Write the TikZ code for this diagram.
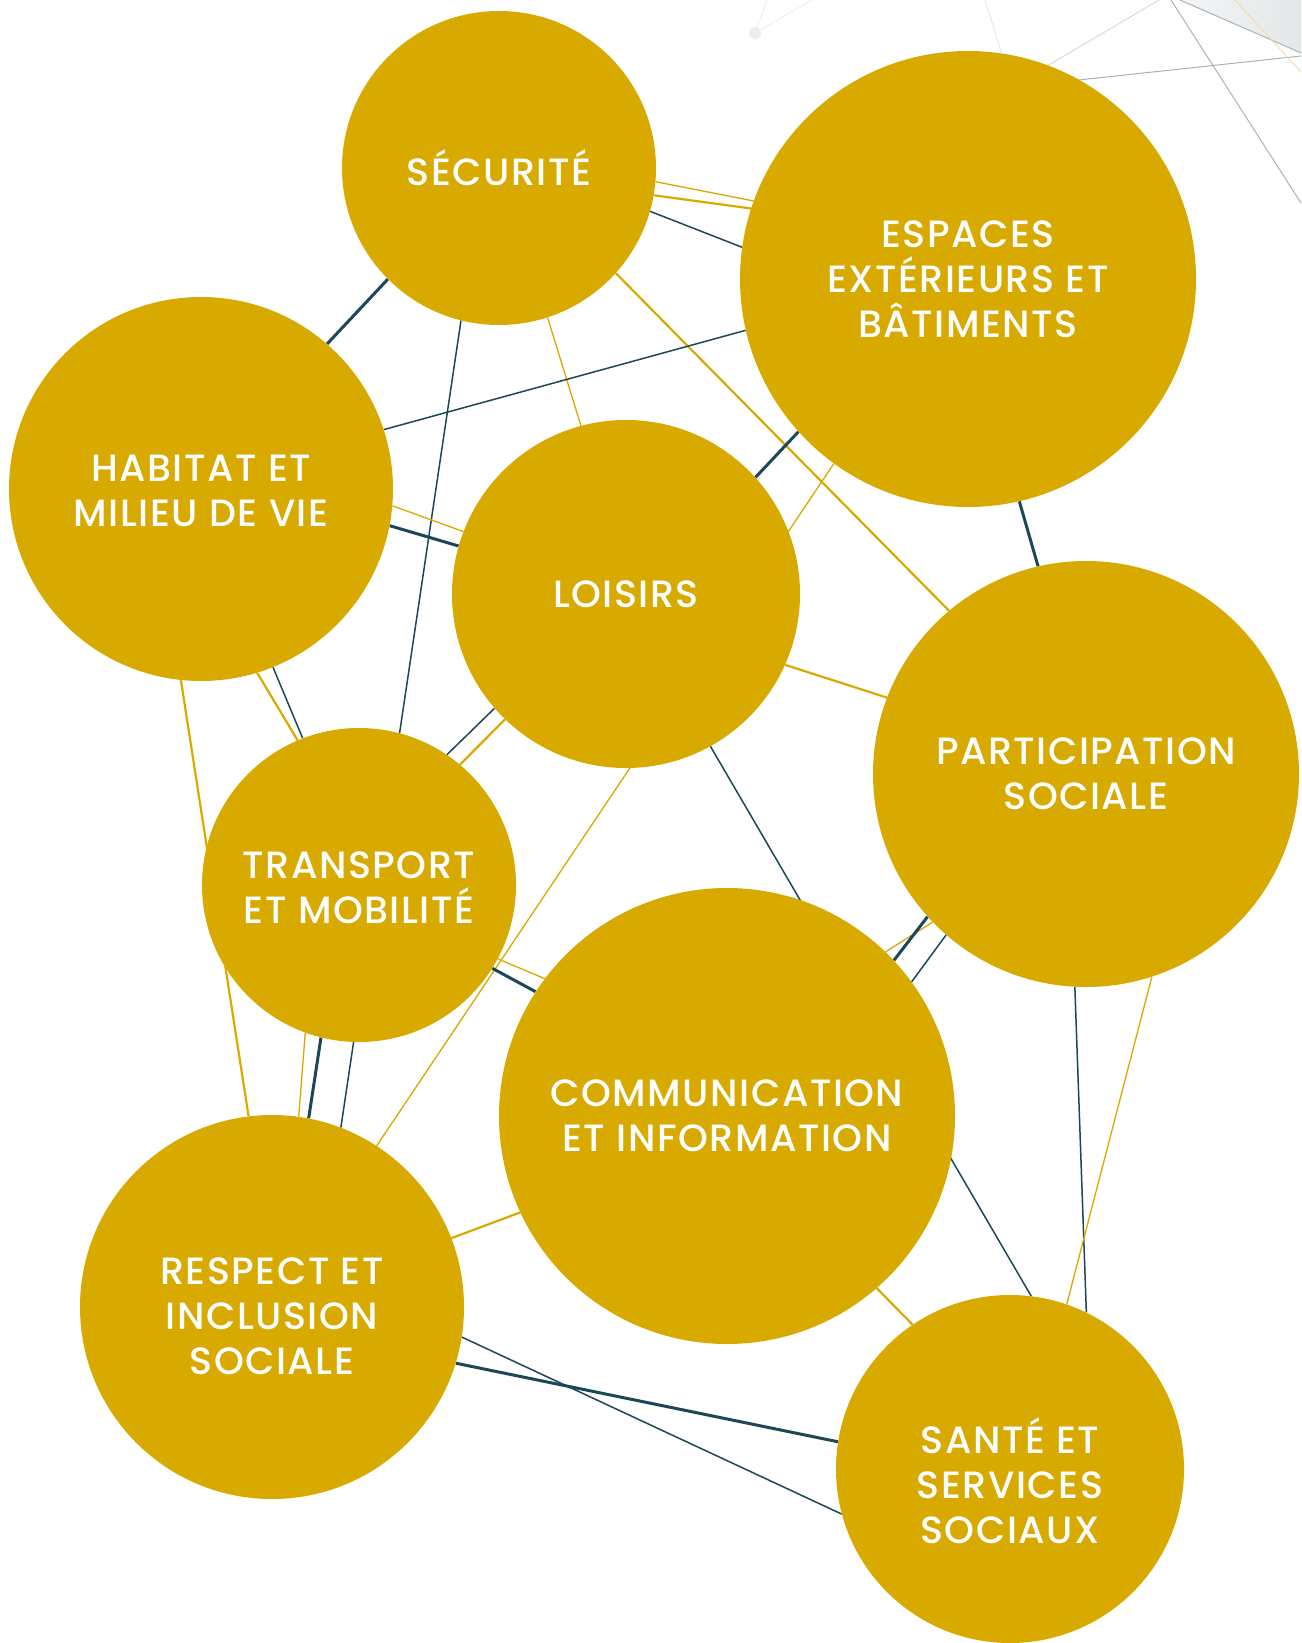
\documentclass[tikz,border=0pt]{standalone}
\usepackage{fontspec}
\setmainfont{Poppins}
\newfontfamily\lblfont{Poppins}[UprightFont=* Medium, LetterSpace=4]
\usetikzlibrary{backgrounds}
\definecolor{ocre}{HTML}{D8AA00}
\definecolor{petrole}{HTML}{1B4757}
\definecolor{brume}{HTML}{A5B4B9}
\definecolor{brumeclair}{HTML}{D5DDE0}
\definecolor{voile}{HTML}{E2E7E8}
\tikzset{
  disc/.style={circle, fill=ocre, inner sep=0pt},
  lbl/.style={text=white, align=center, inner sep=0pt, font=\lblfont\fontsize{38}{45}\selectfont},
  fingold/.style={ocre, line width=1.3pt},
  midgold/.style={ocre, line width=2.2pt},
  finteal/.style={petrole, line width=1.5pt},
  epaisteal/.style={petrole, line width=3pt},
}
\begin{document}
\begin{tikzpicture}[x=1pt,y=-1pt]
    \useasboundingbox (0,0) rectangle (1301,1643);
    \node[disc, minimum size=314pt] (sec) at (499,168) {};
    \node[disc, minimum size=456pt] (esp) at (968,279) {};
    \node[disc, minimum size=384pt] (hab) at (201,489) {};
    \node[disc, minimum size=348pt] (loi) at (626,594) {};
    \node[disc, minimum size=426pt] (par) at (1086,774) {};
    \node[disc, minimum size=314pt] (tra) at (359,885) {};
    \node[disc, minimum size=456pt] (com) at (727,1116) {};
    \node[disc, minimum size=384pt] (res) at (272,1307) {};
    \node[disc, minimum size=348pt] (san) at (1010,1469) {};
    \node[lbl] (sec-l) at (sec) {SÉCURITÉ};
    \node[lbl] (esp-l) at (esp) {ESPACES\\EXTÉRIEURS ET\\BÂTIMENTS};
    \node[lbl] (hab-l) at ([yshift=-2pt]hab) {HABITAT ET\\MILIEU DE VIE};
    \node[lbl] (loi-l) at (loi) {LOISIRS};
    \node[lbl] (par-l) at (par) {PARTICIPATION\\SOCIALE};
    \node[lbl] (tra-l) at ([yshift=-3pt]tra) {TRANSPORT\\ET MOBILITÉ};
    \node[lbl] (com-l) at (com) {COMMUNICATION\\ET INFORMATION};
    \node[lbl] (res-l) at ([yshift=-9pt]res) {RESPECT ET\\INCLUSION\\SOCIALE};
    \node[lbl] (san-l) at ([yshift=-12pt]san) {SANTÉ ET\\SERVICES\\SOCIAUX};
    \begin{scope}[on background layer]
        \fill[white] (0,0) rectangle (1301,1643);
        \shade[left color=voile!40, right color=voile] (1180,0) -- (1301,53) -- (1301,0) -- cycle;
        \draw[brume, line width=1pt] (1180,0) -- (1301,53);
        \draw[brume, line width=1pt] (1171,0) -- (1301,203);
        \draw[brume, line width=1pt] (1301,56) -- (1060,82);
        \draw[brumeclair, line width=1pt] (1159,0) -- (1030,76);
        \draw[brumeclair!70, line width=0.8pt] (985,0) -- (1010,80);
        \draw[brumeclair!50, line width=0.8pt] (755,33) -- (767,0) (755,33) -- (812,0);
        \fill[brumeclair!50] (755,33) circle[radius=6pt];
        \draw[ocre!40, line width=0.8pt] (1235,0) -- (1301,72);
        \draw[epaisteal] (sec.225.5) -- (hab.49.2);
        \draw[finteal] (sec.256.5) -- (res.69.6);
        \draw[fingold] (sec.288.1) -- (loi.105.4);
        \draw[midgold] (sec.318.6) -- (par.130.6);
        \draw[fingold] (sec.-5.9) -- (esp.160.9);
        \draw[midgold] (sec.-10.2) -- (esp.162.9);
        \draw[finteal] (sec.-16.6) -- (esp.172.2);
        \draw[finteal] (hab.18.8) -- (esp.193.4);
        \draw[fingold] (hab.-5.9) -- (loi.159.2);
        \draw[epaisteal] (hab.-11) -- (loi.164.1);
        \draw[midgold] (hab.287.1) -- (tra.113.2);
        \draw[finteal] (hab.292.7) -- (tra.111.2);
        \draw[midgold] (hab.264.7) -- (res.97.8);
        \draw[epaisteal] (esp.222.7) -- (loi.42.7);
        \draw[epaisteal] (esp.283.4) -- (par.103.4);
        \draw[fingold] (esp.234) -- (res.57.1);
        \draw[midgold] (loi.336.5) -- (par.159.3);
        \draw[finteal] (loi.221.3) -- (tra.56.9);
        \draw[midgold] (loi.226.6) -- (tra.50.7);
        \draw[finteal] (loi.299.7) -- (san.83.7);
        \draw[epaisteal] (tra.328.2) -- (com.147.8);
        \draw[fingold] (tra.332.5) -- (com.143.5);
        \draw[fingold] (tra.250.6) -- (res.82.2);
        \draw[epaisteal] (tra.256.8) -- (res.79.8);
        \draw[fingold] (com.46) -- (par.224.5);
        \draw[epaisteal] (com.43.4) -- (par.222.5);
        \draw[finteal] (com.36.5) -- (par.229.9);
        \draw[midgold] (com.205) -- (res.21.1);
        \draw[midgold] (com.311.4) -- (san.124.9);
        \draw[finteal] (par.267) -- (san.64.9);
        \draw[fingold] (par.288.3) -- (san.71.9);
        \draw[epaisteal] (res.343.4) -- (san.171.4);
        \draw[finteal] (res.351.1) -- (san.195.9);
    \end{scope}
\end{tikzpicture}
\end{document}
